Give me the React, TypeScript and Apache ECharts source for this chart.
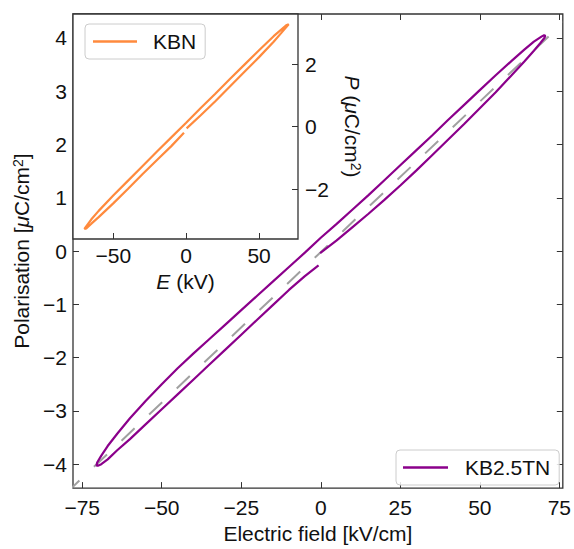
import React, { useEffect, useRef } from "react";
import * as echarts from "echarts";

// ---- Data ----
// Main loop KB2.5TN: [E (kV/cm), P (µC/cm²)] in traversal order
const kb25tnRising: number[][] = [
  [-0.2, -0.04], [5, 0.2], [10, 0.45], [15, 0.7], [20, 0.96], [25, 1.23], [30, 1.51],
  [35, 1.8], [40, 2.09], [45, 2.38], [50, 2.68], [55, 2.98], [60, 3.3], [64, 3.56],
  [67, 3.76], [69, 3.9], [70.3, 4.0], [70.6, 4.04],
];
const kb25tnFalling: number[][] = [
  [70.2, 4.05], [69.5, 4.03], [67, 3.93], [64, 3.78], [60, 3.57], [55, 3.3], [50, 3.02],
  [45, 2.74], [40, 2.46], [35, 2.17], [30, 1.89], [25, 1.61], [20, 1.33], [15, 1.05],
  [10, 0.78], [5, 0.51], [0, 0.25], [-5, -0.03], [-10, -0.3], [-15, -0.57], [-20, -0.84],
  [-25, -1.11], [-30, -1.38], [-35, -1.65], [-40, -1.92], [-45, -2.2], [-50, -2.5],
  [-55, -2.81], [-60, -3.14], [-64, -3.43], [-67, -3.66], [-69, -3.84], [-70.3, -3.97],
  [-70.5, -4.03],
];
const kb25tnReturn: number[][] = [
  [-70.1, -4.03], [-69, -4.0], [-67, -3.91], [-64, -3.74], [-60, -3.53], [-55, -3.25],
  [-50, -2.97], [-45, -2.69], [-40, -2.41], [-35, -2.13], [-30, -1.85], [-25, -1.57],
  [-20, -1.29], [-15, -1.01], [-10, -0.73], [-5, -0.47], [-0.7, -0.27],
];
// Dashed guide line
const guideLine: number[][] = [[-80, -4.54], [80, 4.5]];

// Inset loop KBN: [E (kV), P (µC/cm²)]
const kbnRising: number[][] = [
  [0.3, -0.06], [10, 0.36], [20, 0.81], [30, 1.28], [40, 1.75], [50, 2.22], [60, 2.71],
  [65, 2.98], [70.3, 3.27],
];
const kbnFalling: number[][] = [
  [69, 3.25], [60, 2.89], [50, 2.44], [40, 1.98], [30, 1.52], [20, 1.05], [10, 0.59],
  [0, 0.12], [-10, -0.34], [-20, -0.8], [-30, -1.27], [-40, -1.74], [-50, -2.21],
  [-60, -2.7], [-65, -2.97], [-69.8, -3.28],
];
const kbnReturn: number[][] = [
  [-68.5, -3.26], [-65, -3.11], [-60, -2.9], [-50, -2.46], [-40, -2.0], [-30, -1.53],
  [-20, -1.07], [-10, -0.62], [-1.5, -0.2],
];

const mainXTicks = [-75, -50, -25, 0, 25, 50, 75];
const mainYTicks = [-4, -3, -2, -1, 0, 1, 2, 3, 4];
const insetXTicks = [-50, 0, 50];
const insetYTicks = [-2, 0, 2];

const FONT = "'Liberation Sans', Arial, Helvetica, sans-serif";
const PURPLE = "#8b008b";
const ORANGE = "#ff8a3d";
const GRAY = "#a0a0a0";
const AX = "#333333";
const TXT = "#111111";

const fmt = (v: number) => (v < 0 ? "\u2212" + Math.abs(v) : String(v));

export default function App() {
  const ref = useRef<HTMLDivElement>(null);
  useEffect(() => {
    if (!ref.current) return;
    const chart = echarts.init(ref.current, undefined, { renderer: "svg" });
    const rich = {
      i: { fontStyle: "italic", fontSize: 21, fontFamily: FONT, color: TXT },
      sup: { fontSize: 14, fontFamily: FONT, color: TXT, verticalAlign: "top", lineHeight: 22 },
    };
    const tickOnly = (vals: number[]) => ({
      show: true,
      inside: true,
      length: 6,
      lineStyle: { color: AX, width: 1 },
      customValues: vals,
    });
    const labelStyle = (vals: number[], margin: number) => ({
      show: true,
      fontSize: 21,
      fontFamily: FONT,
      color: TXT,
      margin,
      customValues: vals,
      formatter: fmt,
    });
    const noLine = { show: false, onZero: false };
    const mainLoop = [...kb25tnRising, ...kb25tnFalling, ...kb25tnReturn];
    const kbnLoop = [...kbnRising, ...kbnFalling, ...kbnReturn];

    chart.setOption({
      animation: false,
      backgroundColor: "#ffffff",
      textStyle: { fontFamily: FONT },
      grid: [
        {
          left: 73, top: 14, right: 8, bottom: 51,
          show: true, borderColor: AX, borderWidth: 1.3, backgroundColor: "transparent",
        },
        {
          left: 73, top: 14, width: 225, height: 225,
          show: true, borderColor: AX, borderWidth: 1.3, backgroundColor: "#ffffff", z: 3,
        },
      ],
      xAxis: [
        {
          gridIndex: 0, type: "value", min: -77.9, max: 76.1, position: "bottom",
          axisLine: noLine, splitLine: { show: false },
          axisTick: tickOnly(mainXTicks), axisLabel: labelStyle(mainXTicks, 9),
          name: "Electric field [kV/cm]", nameLocation: "middle", nameGap: 31,
          nameTextStyle: { fontSize: 21, fontFamily: FONT, color: TXT },
        },
        {
          gridIndex: 0, type: "value", min: -77.9, max: 76.1, position: "top",
          axisLine: noLine, splitLine: { show: false },
          axisTick: tickOnly(mainXTicks), axisLabel: { show: false },
        },
        {
          gridIndex: 1, type: "value", min: -77.6, max: 76.7, position: "bottom", z: 4,
          axisLine: noLine, splitLine: { show: false },
          axisTick: tickOnly(insetXTicks), axisLabel: labelStyle(insetXTicks, 6),
          name: "{i|E} (kV)", nameLocation: "middle", nameGap: 32,
          nameTextStyle: { fontSize: 21, fontFamily: FONT, color: TXT, rich },
        },
      ],
      yAxis: [
        {
          gridIndex: 0, type: "value", min: -4.45, max: 4.45, position: "left",
          axisLine: noLine, splitLine: { show: false },
          axisTick: tickOnly(mainYTicks), axisLabel: labelStyle(mainYTicks, 6),
          name: "Polarisation [{i|\u03bc}C/cm{sup|2}]", nameLocation: "middle", nameGap: 40,
          nameTextStyle: { fontSize: 21, fontFamily: FONT, color: TXT, rich },
        },
        {
          gridIndex: 0, type: "value", min: -4.45, max: 4.45, position: "right",
          axisLine: noLine, splitLine: { show: false },
          axisTick: tickOnly(mainYTicks), axisLabel: { show: false },
        },
        {
          gridIndex: 1, type: "value", min: -3.6, max: 3.6, position: "right", z: 4,
          axisLine: noLine, splitLine: { show: false },
          axisTick: tickOnly(insetYTicks), axisLabel: labelStyle(insetYTicks, 7),
          name: "{i|P} ({i|\u03bc}C/cm{sup|2})", nameLocation: "middle", nameGap: 43, nameRotate: -90,
          nameTextStyle: { fontSize: 21, fontFamily: FONT, color: TXT, rich },
        },
      ],
      legend: [
        {
          data: ["KB2.5TN"], left: 396, top: 450, orient: "horizontal",
          icon: "rect", itemWidth: 45, itemHeight: 2.5, padding: [7, 9, 7, 7],
          backgroundColor: "rgba(255,255,255,0.85)", borderColor: "#cccccc", borderWidth: 1, borderRadius: 4,
          textStyle: { fontSize: 21, fontFamily: FONT, color: TXT, padding: [0, 0, 0, 12] },
        },
        {
          data: ["KBN"], left: 85, top: 24, orient: "horizontal", z: 6,
          icon: "rect", itemWidth: 44, itemHeight: 2.5, padding: [7, 9, 7, 8],
          backgroundColor: "rgba(255,255,255,0.85)", borderColor: "#cccccc", borderWidth: 1, borderRadius: 4,
          textStyle: { fontSize: 21, fontFamily: FONT, color: TXT, padding: [0, 0, 0, 11] },
        },
      ],
      series: [
        {
          name: "guide", type: "line", xAxisIndex: 0, yAxisIndex: 0, data: guideLine,
          showSymbol: false, symbol: "none", clip: true, silent: true,
          lineStyle: { color: GRAY, width: 2, type: [18, 20] }, z: 2,
        },
        {
          name: "KB2.5TN", type: "line", xAxisIndex: 0, yAxisIndex: 0, data: mainLoop,
          showSymbol: false, symbol: "none", clip: true, smooth: false,
          lineStyle: { color: PURPLE, width: 2.2 }, itemStyle: { color: PURPLE }, z: 2,
        },
        {
          name: "KBN", type: "line", xAxisIndex: 2, yAxisIndex: 2, data: kbnLoop,
          showSymbol: false, symbol: "none", clip: true, smooth: false,
          lineStyle: { color: ORANGE, width: 2.2 }, itemStyle: { color: ORANGE }, z: 5,
        },
      ],
    });
    return () => chart.dispose();
  }, []);
  return (
    <div
      ref={ref}
      style={{ position: "fixed", left: 0, top: 0, width: 574, height: 549 }}
    />
  );
}
